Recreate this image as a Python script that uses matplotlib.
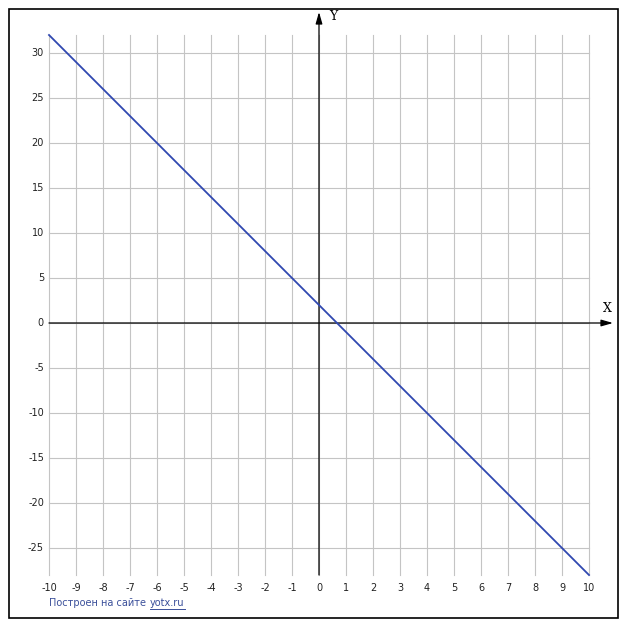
import matplotlib
matplotlib.use("Agg")
import matplotlib.pyplot as plt
import numpy as np
from matplotlib.patches import Rectangle

# data: line y = -3x + 2 sampled at its endpoints
x_vals = [-10, 10]
y_vals = [32, -28]
x_ticks = list(range(-10, 11))
y_ticks = [30, 25, 20, 15, 10, 5, 0, -5, -10, -15, -20, -25]

W, H = 627, 630
fig = plt.figure(figsize=(W / 100, H / 100), dpi=100)
ax = fig.add_axes([0, 0, 1, 1])
# pixel mapping: px = 319 + 27*x ; py(top) = 323 - 9*y
x0p, sx = 319.0, 27.0
y0p, sy = 323.0, 9.0
ax.set_xlim(-x0p / sx, (W - x0p) / sx)
ax.set_ylim((y0p - H) / sy, y0p / sy)
ax.axis("off")

ymin, ymax = -28, 32
xmin, xmax = -10, 10
grid_c = "#c4c4c4"
for xv in x_ticks:
    ax.plot([xv, xv], [ymin, ymax], color=grid_c, lw=0.8, zorder=1)
for yv in y_ticks:
    ax.plot([xmin, xmax], [yv, yv], color=grid_c, lw=0.8, zorder=1)

# axes with arrows
xend = (613 - x0p) / sx
yend = (y0p - 12) / sy
ax.annotate("", xy=(xend, 0), xytext=(xmin, 0),
            arrowprops=dict(arrowstyle="-|>,head_length=0.7,head_width=0.2", color="black", lw=0.9, shrinkA=0, shrinkB=0), zorder=3)
ax.annotate("", xy=(0, yend), xytext=(0, ymin),
            arrowprops=dict(arrowstyle="-|>,head_length=0.7,head_width=0.2", color="black", lw=0.9, shrinkA=0, shrinkB=0), zorder=3)
ax.text((607 - x0p) / sx, (y0p - 308) / sy, "X", ha="center", va="center", fontsize=9, family="DejaVu Serif")
ax.text((333 - x0p) / sx, (y0p - 17) / sy, "Y", ha="center", va="center", fontsize=9, family="DejaVu Serif")

# data line
ax.plot(x_vals, y_vals, color="#3048b0", lw=1.3, zorder=4)

# tick labels
lab_y = (y0p - 588) / sy
for xv in x_ticks:
    ax.text(xv, lab_y, str(xv), ha="center", va="center", fontsize=7, color="#222222")
lab_x = (44 - x0p) / sx
for yv in y_ticks:
    ax.text(lab_x, yv, str(yv), ha="right", va="center", fontsize=7, color="#222222")

# footer
t1 = ax.text((49 - x0p) / sx, (y0p - 603) / sy, "Построен на сайте", ha="left", va="center",
             fontsize=7, color="#3a4f9a")
fig.canvas.draw()
bb = t1.get_window_extent()
x_after = bb.x1 + 4
t2 = fig.text(x_after / W, 1 - 603 / H, "yotx.ru", ha="left", va="center", fontsize=7, color="#3a4f9a")
fig.canvas.draw()
bb2 = t2.get_window_extent()
fig.add_artist(plt.Line2D([bb2.x0 / W, bb2.x1 / W], [1 - 609 / H, 1 - 609 / H], color="#3a4f9a", lw=0.7))

# outer border
fig.add_artist(Rectangle((9 / W, 1 - 618 / H), (618 - 9) / W, (618 - 9) / H,
                         fill=False, edgecolor="black", lw=1.2, transform=fig.transFigure))

fig.savefig("out.png", dpi=100)
